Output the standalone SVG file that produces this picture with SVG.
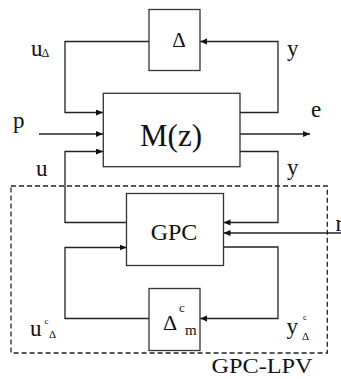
<svg xmlns="http://www.w3.org/2000/svg" width="341" height="379" viewBox="0 0 341 379">
<style>
.box{fill:none;stroke:#333;stroke-width:1.3}
.ln{fill:none;stroke:#222;stroke-width:1.3}
.dash{fill:none;stroke:#222;stroke-width:1.3;stroke-dasharray:5 3}
text{font-family:"Liberation Serif","Times New Roman",serif;fill:#111}
</style>
<defs>
<marker id="ah" markerUnits="userSpaceOnUse" markerWidth="8" markerHeight="7" refX="7" refY="3" orient="auto">
<path d="M0,0 L7,3 L0,6 z" fill="#111"/>
</marker>
</defs>
<rect width="341" height="379" fill="#fff"/>
<g id="connectors">
<path class="ln" d="M149,41.5 H65 V112.5 H103" marker-end="url(#ah)"/>
<path class="ln" d="M240,112.5 H278 V41.5 H200" marker-end="url(#ah)"/>
<path class="ln" d="M39,134 H103" marker-end="url(#ah)"/>
<path class="ln" d="M240,134 H310" marker-end="url(#ah)"/>
<path class="ln" d="M126.5,222.5 H65 V151.5 H103" marker-end="url(#ah)"/>
<path class="ln" d="M240,151.5 H278 V222.5 H223.5" marker-end="url(#ah)"/>
<path class="ln" d="M341,233 H223.5" marker-end="url(#ah)"/>
<path class="ln" d="M223.5,247 H278 V318.5 H200" marker-end="url(#ah)"/>
<path class="ln" d="M149,318.5 H65 V247.5 H126.5" marker-end="url(#ah)"/>
</g>
<g id="gpc-lpv">
<rect class="dash" x="11" y="186" width="316.3" height="167"/>
<text x="211.5" y="373" font-size="21" textLength="101" lengthAdjust="spacingAndGlyphs">GPC-LPV</text>
</g>
<g id="delta">
<rect class="box" x="149" y="9.5" width="51" height="61"/>
<text x="179" y="47" font-size="21" text-anchor="middle">Δ</text>
</g>
<g id="M">
<rect class="box" x="103.3" y="93.3" width="136.7" height="73.4"/>
<text x="171" y="146" font-size="31" text-anchor="middle">M(z)</text>
</g>
<g id="GPC">
<rect class="box" x="126.5" y="193.5" width="97" height="72"/>
<text x="174" y="239.5" font-size="24" text-anchor="middle">GPC</text>
</g>
<g id="delta-m">
<rect class="box" x="149" y="288.5" width="51" height="62"/>
<text x="163" y="330" font-size="22">Δ</text>
<text x="179" y="312" font-size="13">c</text>
<text x="185" y="334.5" font-size="15">m</text>
</g>
<g id="labels">
<text x="31" y="56" font-size="23">u</text>
<text x="41.5" y="56.5" font-size="12">Δ</text>
<text x="287" y="55.5" font-size="23">y</text>
<text x="13" y="128" font-size="23">p</text>
<text x="311" y="116.5" font-size="23">e</text>
<text x="36" y="176" font-size="23">u</text>
<text x="287" y="175" font-size="23">y</text>
<text x="335.5" y="230.5" font-size="23">r</text>
<text x="30" y="336" font-size="23">u</text>
<text x="44.5" y="323.5" font-size="9">c</text>
<text x="49" y="337.5" font-size="11">Δ</text>
<text x="286.5" y="334" font-size="23">y</text>
<text x="303" y="320" font-size="9">c</text>
<text x="302" y="339.5" font-size="11">Δ</text>
</g>
</svg>
